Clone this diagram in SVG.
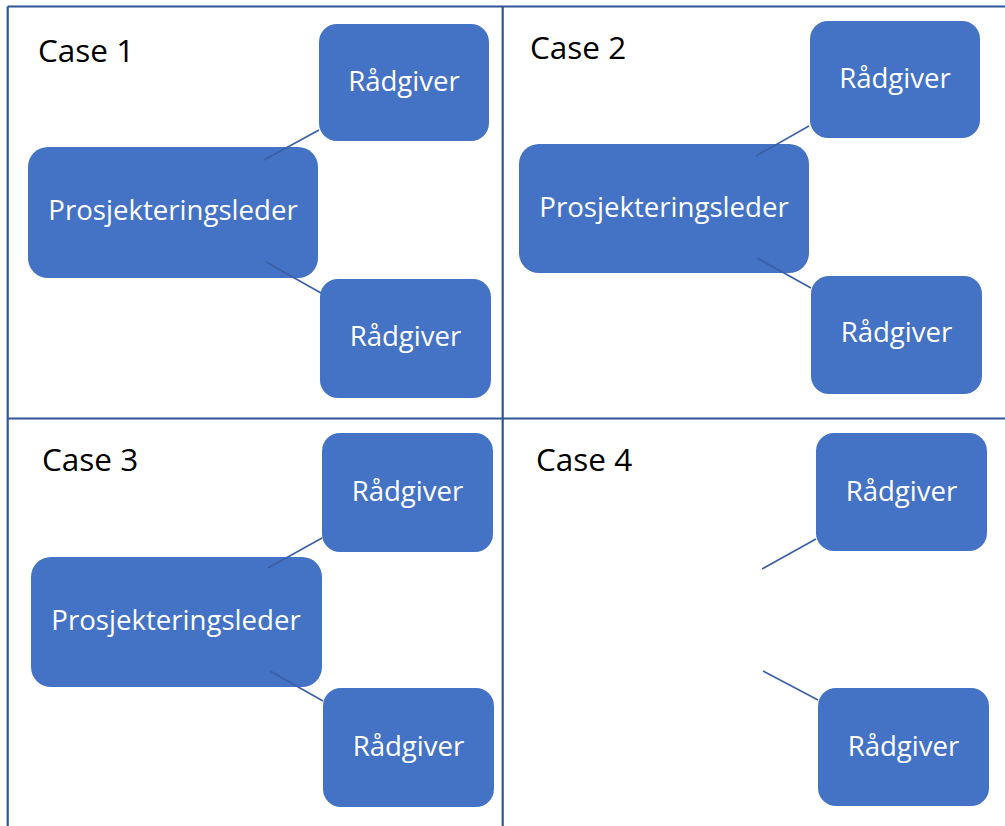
<svg xmlns="http://www.w3.org/2000/svg" width="1005" height="826" viewBox="0 0 1005 826">
<style>
.grid{stroke:#2F5597;stroke-width:2.2;fill:none}
.box{fill:#4472C4}
.lbl{fill:#FFFFFF;font-family:"Open Sans","Noto Sans",sans-serif;font-size:27.6px;text-anchor:middle}
.case{fill:#000000;font-family:"Open Sans","Noto Sans",sans-serif;font-size:31.5px}
.conn{stroke:#3A5FA6;stroke-width:1.6;fill:none}
</style>
<rect width="1005" height="826" fill="#FFFFFF"/>
<g id="grid">
<line class="grid" x1="7.7" y1="6.5" x2="1005" y2="6.5"/>
<line class="grid" x1="7.7" y1="6.5" x2="7.7" y2="826"/>
<line class="grid" x1="502.7" y1="6.5" x2="502.7" y2="826"/>
<line class="grid" x1="7.7" y1="418.5" x2="1005" y2="418.5"/>
</g>
<g id="case-labels">
<text class="case" x="38" y="62">Case 1</text>
<text class="case" x="530" y="59">Case 2</text>
<text class="case" x="42" y="471">Case 3</text>
<text class="case" x="536" y="471">Case 4</text>
</g>
<g id="c1-pl"><rect class="box" x="28" y="147" width="290" height="131" rx="20"/><text class="lbl" x="173" y="220">Prosjekteringsleder</text></g>
<g id="c1-r1"><rect class="box" x="319" y="24" width="170" height="117" rx="18"/><text class="lbl" x="404" y="91">Rådgiver</text></g>
<g id="c1-r2"><rect class="box" x="320" y="279" width="171" height="119" rx="18"/><text class="lbl" x="405.5" y="346">Rådgiver</text></g>
<g id="c2-pl"><rect class="box" x="519" y="144" width="290" height="129" rx="20"/><text class="lbl" x="664" y="217">Prosjekteringsleder</text></g>
<g id="c2-r1"><rect class="box" x="810" y="21" width="170" height="117" rx="18"/><text class="lbl" x="895" y="88">Rådgiver</text></g>
<g id="c2-r2"><rect class="box" x="811" y="276" width="171" height="118" rx="18"/><text class="lbl" x="896.5" y="342">Rådgiver</text></g>
<g id="c3-pl"><rect class="box" x="31" y="557" width="291" height="130" rx="20"/><text class="lbl" x="176" y="630">Prosjekteringsleder</text></g>
<g id="c3-r1"><rect class="box" x="322" y="433" width="171" height="119" rx="18"/><text class="lbl" x="407.5" y="501">Rådgiver</text></g>
<g id="c3-r2"><rect class="box" x="323" y="688" width="171" height="119" rx="18"/><text class="lbl" x="408.5" y="756">Rådgiver</text></g>
<g id="c4-r1"><rect class="box" x="816" y="433" width="171" height="118" rx="18"/><text class="lbl" x="901.5" y="501">Rådgiver</text></g>
<g id="c4-r2"><rect class="box" x="818" y="688" width="171" height="118" rx="18"/><text class="lbl" x="903.5" y="756">Rådgiver</text></g>
<g id="connectors">
<line class="conn" x1="319" y1="130" x2="264" y2="160"/>
<line class="conn" x1="266" y1="262" x2="321" y2="293"/>
<line class="conn" x1="809" y1="126" x2="756" y2="156"/>
<line class="conn" x1="757" y1="258" x2="811" y2="288"/>
<line class="conn" x1="322" y1="538" x2="268" y2="568"/>
<line class="conn" x1="270" y1="671" x2="323" y2="701"/>
<line class="conn" x1="816" y1="539" x2="762" y2="569"/>
<line class="conn" x1="763" y1="671" x2="818" y2="700"/>
</g>
</svg>
